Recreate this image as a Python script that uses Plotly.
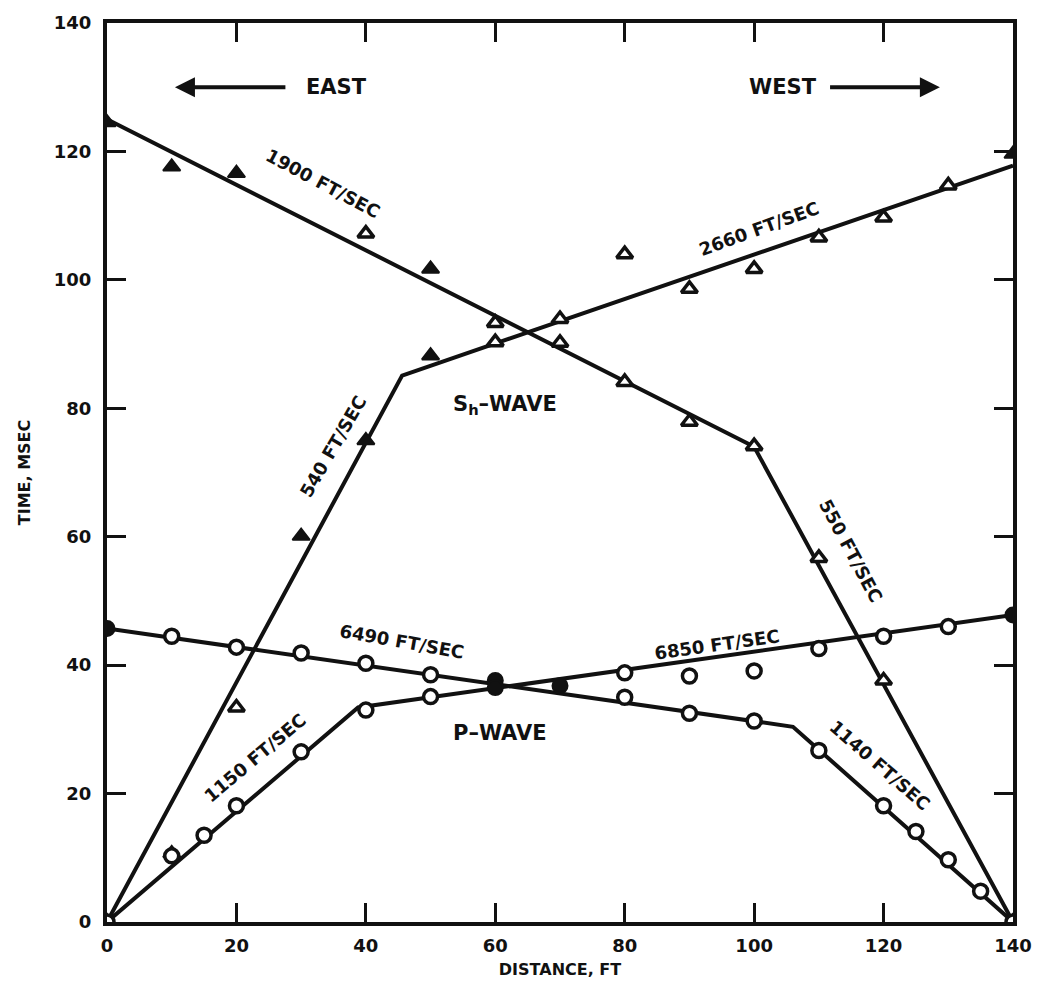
import plotly.graph_objects as go

# ---- data ----
# Sh-wave observations (triangles)
sh_open_x = [40, 60, 60, 70, 70, 80, 80, 90, 90, 100, 100, 110, 110, 120, 120, 130, 20, 140, 0]
sh_open_y = [107.2, 93.3, 90.3, 93.9, 90.2, 104.0, 84.1, 98.6, 77.9, 101.7, 74.1, 106.6, 56.7, 109.7, 37.6, 114.7, 33.4, 0, 0]
sh_solid_x = [0, 10, 20, 50, 50, 40, 30, 10, 140]
sh_solid_y = [124.5, 117.6, 116.6, 101.7, 88.2, 75.0, 60.1, 10.7, 119.6]

# P-wave observations (circles)
p_open_x = [10, 20, 30, 40, 50, 80, 90, 100, 110, 120, 130,
            0, 10, 15, 20, 30, 40, 50, 80, 90, 100, 110, 120, 125, 130, 135, 140]
p_open_y = [44.5, 42.8, 41.9, 40.3, 38.5, 38.8, 38.3, 39.1, 42.6, 44.5, 46.0,
            0, 10.3, 13.5, 18.1, 26.5, 33.0, 35.1, 35.0, 32.5, 31.3, 26.7, 18.1, 14.1, 9.7, 4.8, 0]
p_solid_x = [0, 60, 60, 70, 140]
p_solid_y = [45.7, 37.6, 36.5, 36.8, 47.8]

# fitted travel-time lines (vertices)
sh_east_x = [0, 100, 140]
sh_east_y = [125.0, 74.0, 0]
sh_west_x = [0, 45.6, 140]
sh_west_y = [0, 85.1, 117.8]
p_east_x = [0, 106, 140]
p_east_y = [45.7, 30.4, 0]
p_west_x = [0, 38.8, 140]
p_west_y = [0, 33.4, 47.8]

x_ticks = [0, 20, 40, 60, 80, 100, 120, 140]
y_ticks = [0, 20, 40, 60, 80, 100, 120, 140]

FONT = "DejaVu Sans"
BLACK = "#111111"

fig = go.Figure()

for lx, ly in [(sh_east_x, sh_east_y), (sh_west_x, sh_west_y), (p_east_x, p_east_y), (p_west_x, p_west_y)]:
    fig.add_trace(go.Scatter(x=lx, y=ly, mode="lines",
                             line=dict(color=BLACK, width=4), showlegend=False, hoverinfo="skip"))

fig.add_trace(go.Scatter(x=sh_open_x, y=sh_open_y, mode="markers", showlegend=False,
                         marker=dict(symbol="triangle-up", size=14, color="white",
                                     line=dict(color=BLACK, width=3.5))))
fig.add_trace(go.Scatter(x=sh_solid_x, y=sh_solid_y, mode="markers", showlegend=False,
                         marker=dict(symbol="triangle-up", size=15, color=BLACK,
                                     line=dict(color=BLACK, width=2))))
fig.add_trace(go.Scatter(x=p_open_x, y=p_open_y, mode="markers", showlegend=False,
                         marker=dict(symbol="circle", size=14, color="white",
                                     line=dict(color=BLACK, width=3.5))))
fig.add_trace(go.Scatter(x=p_solid_x, y=p_solid_y, mode="markers", showlegend=False,
                         marker=dict(symbol="circle", size=15, color=BLACK,
                                     line=dict(color=BLACK, width=2))))

lab_font = dict(family=FONT, size=18, color=BLACK, weight="bold")
labels = [
    ("1900 FT/SEC", 33.4, 115.0, 28),
    ("2660 FT/SEC", 100.8, 108.0, -20),
    ("540 FT/SEC", 34.9, 74.1, -60),
    ("550 FT/SEC", 114.9, 57.8, 62),
    ("6490 FT/SEC", 45.6, 43.7, 10),
    ("6850 FT/SEC", 94.3, 43.2, -8),
    ("1150 FT/SEC", 22.9, 25.6, -40),
    ("1140 FT/SEC", 119.5, 24.4, 41),
]
for t, x, y, a in labels:
    fig.add_annotation(x=x, y=y, text=t, showarrow=False, textangle=a, font=lab_font)

big_font = dict(family=FONT, size=21, color=BLACK, weight="bold")
fig.add_annotation(x=61.5, y=80.5, text="S<sub>h</sub>–WAVE", showarrow=False, font=big_font)
fig.add_annotation(x=60.7, y=29.4, text="P–WAVE", showarrow=False, font=big_font)
fig.add_annotation(x=35.5, y=130, text="EAST", showarrow=False, font=big_font)
fig.add_annotation(x=104.5, y=130, text="WEST", showarrow=False, font=big_font)

# direction arrows
fig.add_annotation(x=10.5, y=130, ax=27.8, ay=130, axref="x", ayref="y", xref="x", yref="y",
                   text="", showarrow=True, arrowhead=2, arrowsize=1, arrowwidth=4, arrowcolor=BLACK)
fig.add_annotation(x=128.7, y=130, ax=111.5, ay=130, axref="x", ayref="y", xref="x", yref="y",
                   text="", showarrow=True, arrowhead=2, arrowsize=1, arrowwidth=4, arrowcolor=BLACK)

axis_common = dict(showgrid=False, zeroline=False, showline=True, linewidth=4, linecolor=BLACK,
                   mirror="ticks", ticks="inside", ticklen=19, tickwidth=3, tickcolor=BLACK,
                   tickfont=dict(family=FONT, size=18, color=BLACK, weight="bold"))

fig.update_xaxes(range=[0, 140], tickvals=x_ticks, ticktext=[str(v) for v in x_ticks],
                 ticklabelstandoff=4,
                 title=dict(text="DISTANCE, FT", font=dict(family=FONT, size=16, color=BLACK, weight="bold"),
                            standoff=10),
                 **axis_common)
fig.update_yaxes(range=[0, 140], tickvals=y_ticks, ticktext=[str(v) for v in y_ticks],
                 ticklabelstandoff=8,
                 title=dict(text="TIME, MSEC", font=dict(family=FONT, size=16, color=BLACK, weight="bold"),
                            standoff=20),
                 **axis_common)

fig.update_layout(width=1048, height=989, margin=dict(l=107, r=35, t=12, b=64),
                  paper_bgcolor="white", plot_bgcolor="white", showlegend=False)

fig.write_html("out.html")
